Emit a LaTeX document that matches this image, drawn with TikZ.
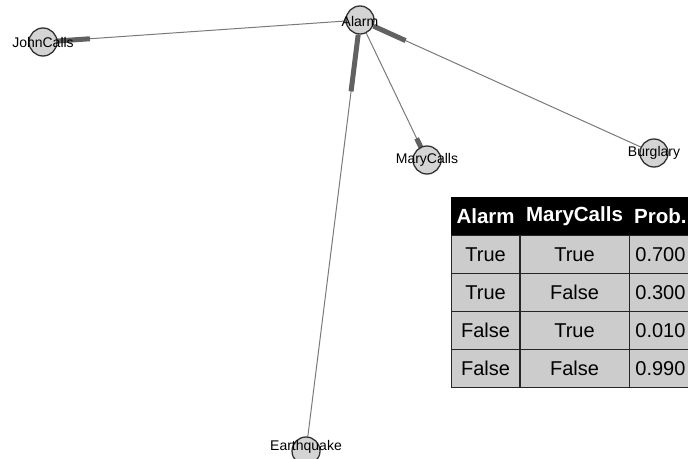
\documentclass[tikz,border=0pt]{standalone}
\usepackage{fontspec}
\setmainfont{Liberation Sans}
\usetikzlibrary{matrix,calc,backgrounds}

\begin{document}
\begin{tikzpicture}[x=1pt, y=-1pt,
    var/.style={circle, draw=black!80, line width=1.3pt, fill=black!17, minimum size=28pt, inner sep=0pt},
    lbl/.style={font=\fontsize{14}{16}\selectfont, inner sep=0pt},
    link/.style={draw=black!52, line width=1pt},
    head/.style={draw=black!62, line width=5pt}
  ]
  \useasboundingbox (0,0) rectangle (688,458);

  \node[var, label={[lbl]center:JohnCalls}] (JC) at (43,42) {};
  \node[var, label={[lbl,yshift=-1pt]center:Alarm}] (AL) at (360,20) {};
  \node[var, label={[lbl]center:MaryCalls}] (MC) at (427,160) {};
  \node[var, label={[lbl]center:Burglary}] (BU) at (654,153) {};
  \node[var, label={[lbl,yshift=4pt]center:Earthquake}] (EQ) at (306,451) {};

  \begin{pgfonlayer}{background}
    \draw[link] (AL.center) -- (JC.center);
    \draw[link] (AL.center) -- (MC.center);
    \draw[link] (BU.center) -- (AL.center);
    \draw[link] (EQ.center) -- (AL.center);
    \draw[head] ($(JC.center)!14pt!(AL.center)$) -- ($(JC.center)!47pt!(AL.center)$);
    \draw[head] ($(MC.center)!14pt!(AL.center)$) -- ($(MC.center)!24pt!(AL.center)$);
    \draw[head] ($(AL.center)!15pt!(BU.center)$) -- ($(AL.center)!50pt!(BU.center)$);
    \draw[head] ($(AL.center)!15pt!(EQ.center)$) -- ($(AL.center)!72pt!(EQ.center)$);
  \end{pgfonlayer}

  \matrix (cpt) [matrix of nodes, anchor=north west, inner sep=0pt,
      nodes={draw=black!85, fill=black!20, line width=0.8pt, minimum height=37.6pt,
        outer sep=0, anchor=center, inner sep=0pt, font=\fontsize{20}{22}\selectfont},
      column 1/.style={nodes={minimum width=68pt}},
      column 2/.style={nodes={minimum width=109pt}},
      column 3/.style={nodes={minimum width=62pt}},
      row 1/.style={nodes={draw=black, fill=black, text=white, font=\fontsize{20.5}{22}\selectfont\bfseries}},
      row sep=-\pgflinewidth, column sep=-\pgflinewidth
    ] at (451,197)
    {
      Alarm & MaryCalls & Prob. \\
      True  & True  & 0.700 \\
      True  & False & 0.300 \\
      False & True  & 0.010 \\
      False & False & 0.990 \\
    };
\end{tikzpicture}
\end{document}
